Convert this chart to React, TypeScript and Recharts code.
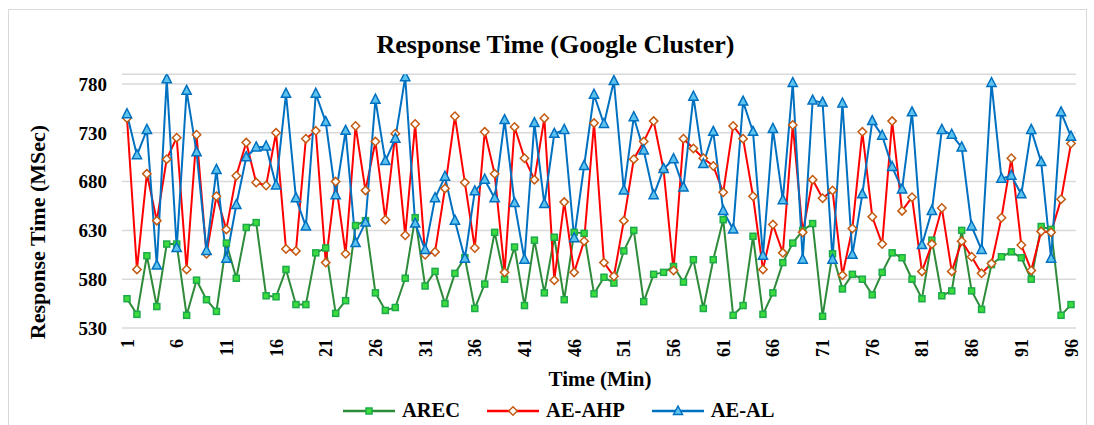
import React from 'react';
import { LineChart, Line, XAxis, YAxis, CartesianGrid } from 'recharts';

// minutes 1..96 on the x axis
const MINUTES = Array.from({ length: 96 }, (_, i) => i + 1);

const AREC = [
  560, 544, 604, 552, 616, 616, 543, 579, 559, 547, 617, 581, 633, 638, 563, 562,
  590, 554, 554, 607, 612, 545, 558, 635, 640, 566, 548, 551, 581, 643, 573, 588,
  555, 586, 602, 550, 575, 628, 580, 613, 553, 620, 566, 623, 559, 628, 627, 565,
  582, 576, 609, 630, 557, 585, 587, 593, 577, 600, 550, 600, 641, 543, 553, 624,
  544, 566, 597, 617, 630, 637, 542, 606, 570, 585, 580, 564, 587, 607, 602, 580,
  560, 620, 563, 568, 630, 568, 549, 595, 603, 608, 602, 580, 634, 631, 543, 554,
];

const AE_AHP = [
  745, 590, 688, 640, 703, 725, 590, 728, 606, 665, 631, 686, 720, 679, 676, 730,
  611, 609, 724, 732, 597, 680, 606, 737, 671, 721, 641, 729, 625, 739, 605, 608,
  673, 747, 679, 612, 731, 688, 587, 736, 704, 682, 745, 579, 659, 587, 619, 740,
  597, 583, 640, 703, 721, 742, 692, 589, 724, 714, 704, 696, 669, 737, 724, 665,
  590, 636, 607, 738, 628, 682, 663, 671, 584, 632, 731, 644, 616, 742, 650, 664,
  588, 616, 653, 588, 619, 603, 586, 596, 643, 704, 615, 589, 629, 628, 662, 719,
];

const AE_AL = [
  749, 707, 733, 594, 785, 612, 773, 710, 609, 692, 601, 656, 705, 715, 716, 676,
  770, 663, 634, 770, 741, 666, 732, 617, 638, 764, 701, 724, 787, 637, 610, 663,
  685, 640, 601, 670, 682, 663, 743, 658, 600, 740, 657, 729, 733, 622, 696, 769,
  739, 783, 671, 746, 712, 666, 693, 703, 674, 767, 698, 731, 650, 631, 762, 731,
  604, 734, 661, 781, 600, 763, 761, 600, 760, 605, 667, 742, 727, 695, 672, 751,
  615, 650, 733, 728, 715, 634, 610, 781, 683, 686, 667, 733, 700, 601, 751, 726,
];

const Y_TICKS = [530, 580, 630, 680, 730, 780];

const data = MINUTES.map((t, i) => ({
  t,
  arec: AREC[i],
  ahp: AE_AHP[i],
  al: AE_AL[i],
}));

const FONT = '"Liberation Serif", "Times New Roman", serif';

const SquareDot = (p: any) => {
  if (p.cx == null || p.cy == null) return null;
  return <rect key={p.index} x={p.cx - 3} y={p.cy - 3} width={6} height={6} fill="#3CDC3C" stroke="#1DAA4A" strokeWidth={1.5} />;
};

const DiamondDot = (p: any) => {
  if (p.cx == null || p.cy == null) return null;
  const { cx, cy } = p;
  return (
    <path key={p.index} d={`M${cx},${cy - 4.2} L${cx + 4.2},${cy} L${cx},${cy + 4.2} L${cx - 4.2},${cy} Z`}
      fill="#fff" stroke="#C55A11" strokeWidth={1.5} />
  );
};

const TriangleDot = (p: any) => {
  if (p.cx == null || p.cy == null) return null;
  const { cx, cy } = p;
  return (
    <path key={p.index} d={`M${cx},${cy - 5.5} L${cx + 4.6},${cy + 3.5} L${cx - 4.6},${cy + 3.5} Z`}
      fill="#5CC3EE" stroke="#0070C0" strokeWidth={1.5} />
  );
};

const XTick = ({ x, y, payload }: any) => (
  <text transform={`translate(${x + 6.5},${y + 3}) rotate(-90)`} textAnchor="end"
    fontFamily={FONT} fontWeight="bold" fontSize={18} fill="#000">
    {payload.value}
  </text>
);

const LEGEND = [
  { label: 'AREC', color: '#2E8B3A', dot: 'sq' },
  { label: 'AE-AHP', color: '#FF0000', dot: 'dia' },
  { label: 'AE-AL', color: '#0070C0', dot: 'tri' },
];

function LegendIcon({ color, dot }: { color: string; dot: string }) {
  return (
    <svg width={52} height={14} style={{ marginRight: 7 }}>
      <line x1={0} y1={7} x2={52} y2={7} stroke={color} strokeWidth={2.5} />
      {dot === 'sq' && <rect x={23} y={4} width={6} height={6} fill="#3CDC3C" stroke="#1DAA4A" strokeWidth={1.5} />}
      {dot === 'dia' && <path d="M26,2.8 L30.2,7 L26,11.2 L21.8,7 Z" fill="#fff" stroke="#C55A11" strokeWidth={1.5} />}
      {dot === 'tri' && <path d="M26,2 L30.5,10.5 L21.5,10.5 Z" fill="#5CC3EE" stroke="#0070C0" strokeWidth={1.5} />}
    </svg>
  );
}

export default function App() {
  return (
    <div style={{ position: 'absolute', left: 0, top: 0, width: 1094, height: 425, background: '#fff', overflow: 'hidden', fontFamily: FONT }}>
      <div style={{ position: 'absolute', left: 8, top: 9, width: 1077, height: 430, border: '1px solid #D9D9D9' }} />
      <div style={{ position: 'absolute', left: 0, width: 1111, top: 30, textAlign: 'center', fontSize: 26, fontWeight: 'bold' }}>
        Response Time (Google Cluster)
      </div>
      <div style={{ position: 'absolute', left: 38, top: 232, width: 0, height: 0 }}>
        <div style={{ position: 'absolute', transform: 'translate(-50%, -50%) rotate(-90deg)', whiteSpace: 'nowrap', fontSize: 22, fontWeight: 'bold' }}>
          Response Time (MSec)
        </div>
      </div>
      <div style={{ position: 'absolute', left: 0, width: 1200, top: 367, textAlign: 'center', fontSize: 21, fontWeight: 'bold' }}>
        Time (Min)
      </div>
      <div style={{ position: 'absolute', left: 343, top: 399, display: 'flex', alignItems: 'center', fontSize: 20.5, fontWeight: 'bold' }}>
        {LEGEND.map((l) => (
          <div key={l.label} style={{ display: 'flex', alignItems: 'center', marginRight: 27 }}>
            <LegendIcon color={l.color} dot={l.dot} />
            <span>{l.label}</span>
          </div>
        ))}
      </div>
      <div style={{ position: 'absolute', left: 0, top: 0 }}>
        <LineChart width={1094} height={425} data={data} margin={{ top: 74.25, right: 18, bottom: 67, left: 0 }}>
          <CartesianGrid stroke="#D9D9D9" strokeWidth={1.5} vertical={false} />
          <XAxis dataKey="t" interval={4} height={30} tick={<XTick />} tickLine={false} axisLine={false}
            padding={{ left: 5, right: 5 }} />
          <YAxis domain={[530, 790]} ticks={Y_TICKS} allowDataOverflow width={122}
            tickLine={false} axisLine={false} tickMargin={9}
            tick={{ fontFamily: FONT, fontWeight: 'bold', fontSize: 19, fill: '#000' }} />
          <Line dataKey="arec" stroke="#2E8B3A" strokeWidth={2} dot={SquareDot} isAnimationActive={false} />
          <Line dataKey="ahp" stroke="#FF0000" strokeWidth={2} dot={DiamondDot} isAnimationActive={false} />
          <Line dataKey="al" stroke="#0070C0" strokeWidth={2} dot={TriangleDot} isAnimationActive={false} />
        </LineChart>
      </div>
    </div>
  );
}
